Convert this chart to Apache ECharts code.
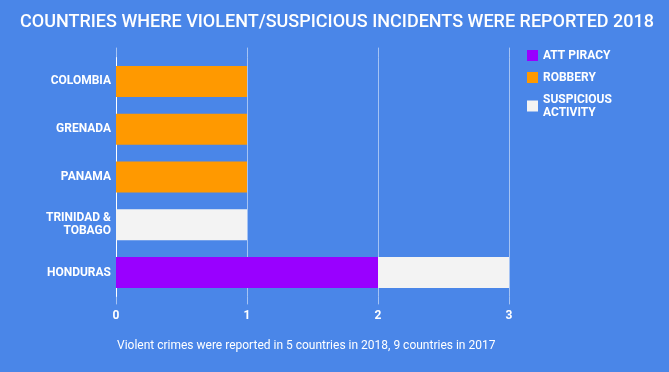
<!DOCTYPE html>
<html><head><meta charset="utf-8">
<script src="https://cdn.jsdelivr.net/npm/echarts@6/dist/echarts.min.js"></script>
<style>html,body{margin:0;padding:0;background:#4a86e8}#c{width:669px;height:372px}</style>
</head><body><div id="c"></div>
<script>
var categories = ['HONDURAS', 'TRINIDAD &\nTOBAGO', 'PANAMA', 'GRENADA', 'COLOMBIA'];
var attPiracy = [2, 0, 0, 0, 0];
var robbery = [0, 0, 1, 1, 1];
var suspicious = [1, 1, 0, 0, 0];
var xTicks = [0, 1, 2, 3];
var titleText = 'COUNTRIES WHERE VIOLENT/SUSPICIOUS INCIDENTS WERE REPORTED 2018';
var footText = 'Violent crimes were reported in 5 countries in 2018, 9 countries in 2017';

var chart = echarts.init(document.getElementById('c'));
var font = 'Roboto';
var gridCol = 'rgba(255,255,255,0.5)';
chart.setOption({
  backgroundColor: '#4a86e8',
  animation: false,
  textStyle: {fontFamily: font},
  title: [
    {text: titleText, left: 15, top: 8, textStyle: {color: '#ffffff', fontSize: 18, fontWeight: 500, fontFamily: font}},
    {text: footText, left: 112, top: 335, textStyle: {color: '#ffffff', fontSize: 12, fontWeight: 'normal', fontFamily: font}}
  ],
  legend: {
    orient: 'vertical', left: 522, top: 44, itemWidth: 11, itemHeight: 11, itemGap: 9,
    icon: 'rect',
    data: ['ATT PIRACY', 'ROBBERY', 'SUSPICIOUS\nACTIVITY'],
    textStyle: {color: '#ffffff', fontSize: 12, fontWeight: 'bold', fontFamily: font, lineHeight: 13}
  },
  grid: {left: 116, right: 160, top: 57.6, bottom: 75.6},
  xAxis: [{
    type: 'value', min: 0, max: 3, interval: 1,
    axisLine: {show: false},
    axisTick: {show: true, length: 8, lineStyle: {color: gridCol}},
    splitLine: {show: true, lineStyle: {color: [ '#ffffff', gridCol, gridCol, gridCol], width: 1}},
    axisLabel: {color: '#ffffff', fontSize: 12, fontWeight: 'bold', margin: 14, fontFamily: font,
      formatter: function (v) { return xTicks.indexOf(v) >= 0 ? String(v) : ''; }}
  }, {
    type: 'value', min: 0, max: 3, interval: 1, position: 'top',
    axisLine: {show: false},
    axisTick: {show: true, length: 10, lineStyle: {color: gridCol}},
    splitLine: {show: false},
    axisLabel: {show: false}
  }],
  yAxis: {
    type: 'category', data: categories,
    axisLine: {show: true, lineStyle: {color: '#ffffff', width: 1}},
    axisTick: {show: false},
    axisLabel: {color: '#ffffff', fontSize: 12, fontWeight: 'bold', margin: 5, fontFamily: font, lineHeight: 13, align: 'right'}
  },
  series: [
    {name: 'ATT PIRACY', type: 'bar', stack: 's', data: attPiracy, barWidth: 31, itemStyle: {color: '#9900ff'}},
    {name: 'ROBBERY', type: 'bar', stack: 's', data: robbery, barWidth: 31, itemStyle: {color: '#ff9900'}},
    {name: 'SUSPICIOUS\nACTIVITY', type: 'bar', stack: 's', data: suspicious, barWidth: 31, itemStyle: {color: '#f3f3f3'}}
  ]
});
</script></body></html>
